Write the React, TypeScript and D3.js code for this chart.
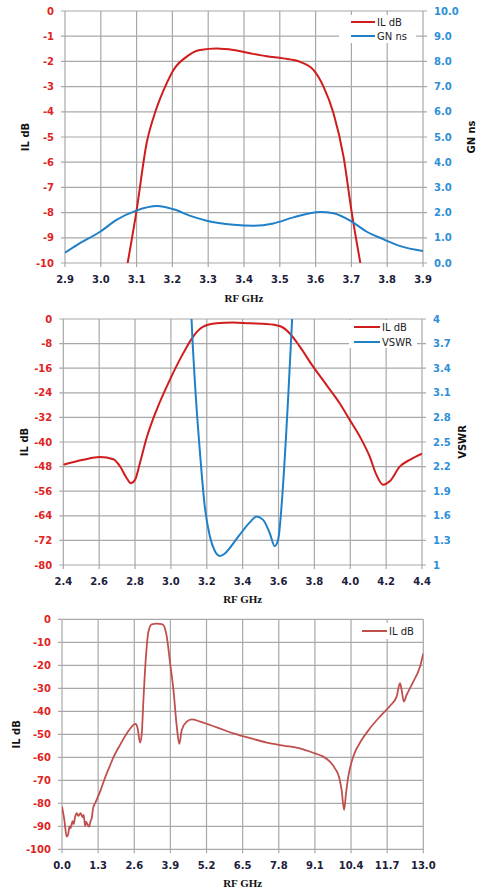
import React from "react";
import * as d3 from "d3";

// ---------- Chart 1 data ----------
const c1XTicks = [2.9, 3.0, 3.1, 3.2, 3.3, 3.4, 3.5, 3.6, 3.7, 3.8, 3.9];
const c1LeftTicks = [0, -1, -2, -3, -4, -5, -6, -7, -8, -9, -10];
const c1RightTicks = [0, 1, 2, 3, 4, 5, 6, 7, 8, 9, 10];
const c1IL: [number, number][] = [
  [3.075, -10], [3.099, -8.0], [3.128, -5.25], [3.154, -3.93], [3.184, -2.87],
  [3.203, -2.34], [3.24, -1.81], [3.277, -1.55], [3.324, -1.49], [3.371, -1.55],
  [3.417, -1.68], [3.464, -1.8], [3.51, -1.88], [3.557, -2.02], [3.594, -2.34],
  [3.622, -3.0], [3.65, -4.06], [3.678, -5.78], [3.701, -8.0], [3.725, -10],
];
const c1GN: [number, number][] = [
  [2.9, 0.41], [2.933, 0.71], [2.998, 1.24], [3.044, 1.71], [3.099, 2.08],
  [3.157, 2.26], [3.203, 2.13], [3.25, 1.87], [3.296, 1.68], [3.371, 1.52],
  [3.427, 1.48], [3.482, 1.57], [3.538, 1.81], [3.613, 2.02], [3.65, 1.97],
  [3.701, 1.64], [3.743, 1.24], [3.79, 0.94], [3.837, 0.67], [3.9, 0.48],
];

// ---------- Chart 2 data ----------
const c2XTicks = [2.4, 2.6, 2.8, 3.0, 3.2, 3.4, 3.6, 3.8, 4.0, 4.2, 4.4];
const c2LeftTicks = [0, -8, -16, -24, -32, -40, -48, -56, -64, -72, -80];
const c2RightTicks = [4, 3.7, 3.4, 3.1, 2.8, 2.5, 2.2, 1.9, 1.6, 1.3, 1];
const c2IL: [number, number][] = [
  [2.4, -47.4], [2.511, -45.8], [2.604, -44.9], [2.679, -45.6], [2.716, -47.9],
  [2.753, -51.7], [2.777, -53.4], [2.8, -52.3], [2.827, -46.9], [2.864, -38.8],
  [2.92, -29.6], [2.994, -19.8], [3.069, -11.1], [3.124, -5.7], [3.18, -2.5],
  [3.254, -1.4], [3.347, -1.1], [3.44, -1.4], [3.533, -1.6], [3.607, -2.3],
  [3.663, -4.7], [3.719, -9.0], [3.793, -15.5], [3.867, -21.4], [3.941, -27.4],
  [3.997, -32.8], [4.053, -38.2], [4.108, -44.7], [4.146, -50.7], [4.183, -53.9],
  [4.22, -52.8], [4.276, -48.0], [4.332, -45.8], [4.4, -43.8],
];
const c2VSWR: [number, number][] = [
  [3.108, 4.4], [3.115, 4.0], [3.134, 3.22], [3.161, 2.4], [3.189, 1.71],
  [3.217, 1.35], [3.245, 1.17], [3.273, 1.11], [3.301, 1.14], [3.329, 1.21],
  [3.384, 1.37], [3.44, 1.52], [3.477, 1.59], [3.514, 1.55], [3.551, 1.39],
  [3.579, 1.23], [3.598, 1.31], [3.626, 2.0], [3.653, 3.01], [3.676, 4.0], [3.684, 4.4],
];

// ---------- Chart 3 data ----------
const c3XTicks = [0.0, 1.3, 2.6, 3.9, 5.2, 6.5, 7.8, 9.1, 10.4, 11.7, 13.0];
const c3LeftTicks = [0, -10, -20, -30, -40, -50, -60, -70, -80, -90, -100];
const c3IL: [number, number][] = [
  [0, -81.4], [0.084, -87.2], [0.168, -94.5], [0.23, -93], [0.27, -90], [0.31, -90.8],
  [0.38, -87.8], [0.42, -89], [0.47, -86], [0.53, -84.3], [0.59, -85.5], [0.63, -84.8],
  [0.67, -84.3], [0.74, -86], [0.78, -85], [0.83, -89.9], [0.87, -88], [0.91, -89],
  [0.98, -90.1], [1.02, -88], [1.07, -86.5], [1.12, -82], [1.19, -80], [1.37, -74.9],
  [1.5, -70.5], [1.61, -67], [1.72, -63.8], [1.85, -60], [1.97, -57.2], [2.09, -54.6],
  [2.2, -52.2], [2.33, -49.6], [2.45, -47.6], [2.57, -45.9], [2.66, -45.5],
  [2.72, -47.4], [2.81, -53.6], [2.87, -49.6], [2.93, -35], [3.02, -16.2], [3.11, -5.4],
  [3.23, -2.2], [3.41, -1.9], [3.58, -2.1], [3.65, -2.6], [3.77, -7.5], [3.89, -19.1],
  [4.01, -30.7], [4.13, -46.7], [4.22, -54.2], [4.31, -48.1], [4.49, -44.5],
  [4.67, -43.5], [4.97, -44.5], [5.57, -47], [6.17, -49.6], [6.77, -51.7],
  [7.37, -53.6], [7.97, -54.9], [8.56, -56.1], [9.1, -58.3], [9.4, -59.7],
  [9.64, -61.9], [9.82, -64.8], [9.98, -69.1], [10.06, -74.2], [10.15, -82.9],
  [10.22, -75.6], [10.3, -68.4], [10.48, -59.7], [10.78, -52.5], [11.08, -47.4],
  [11.44, -42.3], [11.8, -37.7], [12.04, -33.6], [12.16, -27.8], [12.22, -30.7],
  [12.3, -35.8], [12.4, -32.9], [12.64, -27.1], [12.88, -20.6], [13.0, -14.8],
];

const RED = "#d01c1c";
const BLUE = "#1f80c8";
const RED_TXT = "#e02424";
const BLUE_TXT = "#2d8fd8";
const GRID = "#a8a8a8";
const XTXT = "#20203a";
const TICKFONT = "DejaVu Sans, Verdana, sans-serif";

type Series = { data: [number, number][]; color: string; axis: "left" | "right"; name: string; width: number; curve: any };

type ChartProps = {
  id: string;
  x0: number; x1: number; y0: number; y1: number;
  xDomain: [number, number];
  xTicks: number[]; xFmt: (v: number) => string;
  leftDomain: [number, number]; leftTicks: number[]; leftFmt: (v: number) => string;
  rightDomain?: [number, number]; rightTicks?: number[]; rightFmt?: (v: number) => string;
  series: Series[];
  leftTitle: string; leftTitleX: number;
  rightTitle?: string; rightTitleX?: number;
  xTitleY: number;
  legend: { x: number; y: number; w: number; h: number; lineX0: number; lineX1: number; rowY: number[] };
};

function Chart(p: ChartProps) {
  const x = d3.scaleLinear().domain(p.xDomain).range([p.x0, p.x1]);
  const yl = d3.scaleLinear().domain(p.leftDomain).range([p.y1, p.y0]);
  const yr = p.rightDomain ? d3.scaleLinear().domain(p.rightDomain).range([p.y1, p.y0]) : null;
  const midY = (p.y0 + p.y1) / 2;
  return (
    <g>
      <defs>
        <clipPath id={p.id}>
          <rect x={p.x0} y={p.y0} width={p.x1 - p.x0} height={p.y1 - p.y0} />
        </clipPath>
      </defs>
      {p.leftTicks.map((t, i) => (
        <line key={"h" + i} x1={p.x0 - 4} x2={p.x1 + (yr ? 4 : 0)} y1={yl(t)} y2={yl(t)} stroke={GRID} strokeWidth={1.2} />
      ))}
      {p.xTicks.map((t, i) => (
        <line key={"v" + i} x1={x(t)} x2={x(t)} y1={p.y0} y2={p.y1 + 4} stroke={GRID} strokeWidth={1.2} />
      ))}
      <g clipPath={`url(#${p.id})`}>
        {p.series.map((s, i) => {
          const ys = s.axis === "left" ? yl : yr!;
          const line = d3.line<[number, number]>().x((d) => x(d[0])).y((d) => ys(d[1])).curve(s.curve);
          return <path key={i} d={line(s.data) || ""} fill="none" stroke={s.color} strokeWidth={s.width} strokeLinejoin="round" />;
        })}
      </g>
      {p.leftTicks.map((t, i) => (
        <text key={"lt" + i} x={p.x0 - 11} y={yl(t)} dy="0.36em" textAnchor="end" fill={RED_TXT} fontFamily={TICKFONT} fontWeight="bold" fontSize={10}>
          {p.leftFmt(t)}
        </text>
      ))}
      {yr && p.rightTicks && p.rightTicks.map((t, i) => (
        <text key={"rt" + i} x={p.x1 + 11} y={yr(t)} dy="0.36em" textAnchor="start" fill={BLUE_TXT} fontFamily={TICKFONT} fontWeight="bold" fontSize={10}>
          {p.rightFmt!(t)}
        </text>
      ))}
      {p.xTicks.map((t, i) => (
        <text key={"xt" + i} x={x(t)} y={p.y1 + 16} dy="0.36em" textAnchor="middle" fill={XTXT} fontFamily={TICKFONT} fontWeight="bold" fontSize={10}>
          {p.xFmt(t)}
        </text>
      ))}
      <text x={(p.x0 + p.x1) / 2} y={p.xTitleY} dy="0.36em" textAnchor="middle" fontFamily="Liberation Serif, serif" fontWeight="bold" fontSize={11} fill="#111">
        RF GHz
      </text>
      <text transform={`translate(${p.leftTitleX},${midY}) rotate(-90)`} textAnchor="middle" dy="0.36em" fontFamily={TICKFONT} fontWeight="bold" fontSize={10} fill="#111">
        {p.leftTitle}
      </text>
      {p.rightTitle && (
        <text transform={`translate(${p.rightTitleX},${midY}) rotate(-90)`} textAnchor="middle" dy="0.36em" fontFamily={TICKFONT} fontWeight="bold" fontSize={10} fill="#111">
          {p.rightTitle}
        </text>
      )}
      <rect x={p.legend.x} y={p.legend.y} width={p.legend.w} height={p.legend.h} fill="#fff" />
      {p.series.map((s, i) => (
        <g key={"lg" + i}>
          <line x1={p.legend.lineX0} x2={p.legend.lineX1} y1={p.legend.rowY[i]} y2={p.legend.rowY[i]} stroke={s.color} strokeWidth={2} />
          <text x={p.legend.lineX1 + 2} y={p.legend.rowY[i]} dy="0.36em" fontFamily={TICKFONT} fontSize={10} fill="#222">
            {s.name}
          </text>
        </g>
      ))}
    </g>
  );
}

export default function App() {
  const f0 = (v: number) => String(v);
  const f1 = (v: number) => v.toFixed(1);
  const fr = (v: number) => (Number.isInteger(v) ? String(v) : v.toFixed(1));
  return (
    <svg width={483} height={893} style={{ position: "absolute", left: 0, top: 0, background: "#fff" }}>
      <rect width={483} height={893} fill="#fff" />
      <Chart
        id="c1"
        x0={65} x1={423} y0={11} y1={263}
        xDomain={[2.9, 3.9]} xTicks={c1XTicks} xFmt={f1}
        leftDomain={[-10, 0]} leftTicks={c1LeftTicks} leftFmt={f0}
        rightDomain={[0, 10]} rightTicks={c1RightTicks} rightFmt={f1}
        series={[
          { data: c1IL, color: RED, axis: "left", name: "IL dB", width: 2, curve: d3.curveMonotoneX },
          { data: c1GN, color: BLUE, axis: "right", name: "GN ns", width: 2, curve: d3.curveMonotoneX },
        ]}
        leftTitle="IL dB" leftTitleX={25}
        rightTitle="GN ns" rightTitleX={471}
        xTitleY={298}
        legend={{ x: 339, y: 15, w: 77, h: 28, lineX0: 351, lineX1: 375, rowY: [22, 36] }}
      />
      <Chart
        id="c2"
        x0={63.3} x1={422} y0={319} y1={565}
        xDomain={[2.4, 4.4]} xTicks={c2XTicks} xFmt={f1}
        leftDomain={[-80, 0]} leftTicks={c2LeftTicks} leftFmt={f0}
        rightDomain={[1, 4]} rightTicks={c2RightTicks} rightFmt={fr}
        series={[
          { data: c2IL, color: RED, axis: "left", name: "IL dB", width: 2, curve: d3.curveMonotoneX },
          { data: c2VSWR, color: BLUE, axis: "right", name: "VSWR", width: 2, curve: d3.curveMonotoneX },
        ]}
        leftTitle="IL dB" leftTitleX={24}
        rightTitle="VSWR" rightTitleX={462}
        xTitleY={599}
        legend={{ x: 349, y: 320, w: 68, h: 28, lineX0: 354, lineX1: 380, rowY: [327, 342] }}
      />
      <Chart
        id="c3"
        x0={62} x1={423.3} y0={619.3} y1={849.3}
        xDomain={[0, 13]} xTicks={c3XTicks} xFmt={f1}
        leftDomain={[-100, 0]} leftTicks={c3LeftTicks} leftFmt={f0}
        series={[
          { data: c3IL, color: "#c0504d", axis: "left", name: "IL dB", width: 1.8, curve: d3.curveMonotoneX },
        ]}
        leftTitle="IL dB" leftTitleX={16}
        xTitleY={883}
        legend={{ x: 356, y: 623, w: 62, h: 16, lineX0: 362, lineX1: 387, rowY: [631] }}
      />
    </svg>
  );
}
